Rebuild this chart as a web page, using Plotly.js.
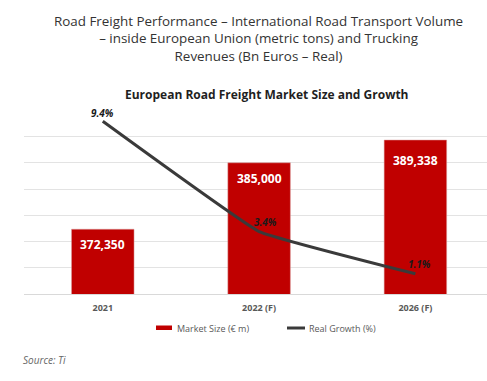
<!DOCTYPE html>
<html>
<head>
<meta charset="utf-8">
<script src="https://cdn.plot.ly/plotly-3.0.1.min.js"></script>
<style>html,body{margin:0;padding:0;background:#fff;}#chart{width:487px;height:381px;}</style>
</head>
<body>
<div id="chart"></div>
<script>
const categories = ['2021', '2022 (F)', '2026 (F)'];
const marketSize = [372350, 385000, 389338];
const realGrowth = [9.4, 3.4, 1.1];
const growthLabels = ['9.4%', '3.4%', '1.1%'];
const seriesNames = ['Market Size (€ m)', 'Real Growth (%)'];

const F = '"Open Sans", sans-serif';

const bars = {
  type: 'bar', x: categories, y: marketSize, name: seriesNames[0],
  marker: {color: '#C00000', line: {color: '#d9a0a0', width: 0.5}},
  width: 0.4, hoverinfo: 'none', showlegend: false
};
const line = {
  type: 'scatter', mode: 'lines', x: categories, y: realGrowth, yaxis: 'y2',
  name: seriesNames[1],
  line: {color: '#3a3a3a', width: 3, shape: 'spline', smoothing: 0.25},
  hoverinfo: 'none', showlegend: false
};

const annotations = [];
// bar value labels
const barShift = [-15, -16, -20];
marketSize.forEach((v, i) => annotations.push({
  x: i, y: v, xref: 'x', yref: 'y', text: '<b>' + v.toLocaleString('en-US') + '</b>',
  showarrow: false, yanchor: 'middle', yshift: barShift[i],
  font: {family: F, size: 12, color: '#ffffff'}
}));
// growth labels
const shifts = [[0, 8], [6, 9.5], [4, 9.5]];
realGrowth.forEach((v, i) => annotations.push({
  x: i, y: v, xref: 'x', yref: 'y2', text: '<b><i>' + growthLabels[i] + '</i></b>',
  showarrow: false, yanchor: 'middle', xshift: shifts[i][0], yshift: shifts[i][1],
  font: {family: F, size: 10, color: '#1a1a1a'}
}));
// main title
annotations.push({
  xref: 'paper', yref: 'paper', x: (258 - 24) / 463, y: (294 - 10) / 184, xanchor: 'center', yanchor: 'top',
  text: 'Road Freight Performance – International Road Transport Volume<br>– inside European Union (metric tons) and Trucking<br>Revenues (Bn Euros – Real)',
  showarrow: false, align: 'center', font: {family: F, size: 13.4, color: '#333'}
});
// subtitle
annotations.push({
  xref: 'paper', yref: 'paper', x: (267 - 24) / 463, y: (294 - 94.5) / 184, xanchor: 'center', yanchor: 'middle',
  text: '<b>European Road Freight Market Size and Growth</b>', showarrow: false,
  font: {family: F, size: 12, color: '#1f1f1f'}
});
// legend texts
annotations.push({
  xref: 'paper', yref: 'paper', x: (175 - 24) / 463, y: (294 - 328) / 184, xanchor: 'left', yanchor: 'middle',
  text: seriesNames[0], showarrow: false, font: {family: F, size: 9, color: '#595959'}
});
annotations.push({
  xref: 'paper', yref: 'paper', x: (307 - 24) / 463, y: (294 - 328) / 184, xanchor: 'left', yanchor: 'middle',
  text: seriesNames[1], showarrow: false, font: {family: F, size: 9, color: '#595959'}
});
// source
annotations.push({
  xref: 'paper', yref: 'paper', x: (21 - 24) / 463, y: (294 - 360) / 184, xanchor: 'left', yanchor: 'middle',
  text: '<i>Source: Ti</i>', showarrow: false, font: {family: F, size: 10, color: '#666'}
});

const shapes = [
  {type: 'rect', xref: 'paper', yref: 'paper', x0: (156 - 24) / 463, x1: (172 - 24) / 463,
   y0: (294 - 330) / 184, y1: (294 - 325.5) / 184, fillcolor: '#C00000', line: {width: 0}},
  {type: 'line', xref: 'paper', yref: 'paper', x0: (287 - 24) / 463, x1: (305 - 24) / 463,
   y0: (294 - 328) / 184, y1: (294 - 328) / 184, line: {color: '#3a3a3a', width: 3}}
];

const layout = {
  width: 487, height: 381,
  margin: {l: 24, r: 0, t: 110, b: 87},
  paper_bgcolor: '#fff', plot_bgcolor: '#fff',
  showlegend: false,
  xaxis: {
    type: 'category', range: [-0.504, 2.458], showgrid: false, zeroline: false,
    showline: true, linecolor: '#d9d9d9', linewidth: 1, ticks: '', ticklabelstandoff: 5,
    tickfont: {family: F, size: 9, color: '#595959', weight: 'bold'}
  },
  yaxis: {
    range: [360000, 395060], tick0: 360000, dtick: 5000, showgrid: true, gridcolor: '#e3e3e3', gridwidth: 1,
    showticklabels: false, zeroline: false, ticks: ''
  },
  yaxis2: {
    range: [0, 10.017], overlaying: 'y', side: 'right', showgrid: false,
    showticklabels: false, zeroline: false, ticks: ''
  },
  annotations: annotations,
  shapes: shapes,
  bargap: 0.6
};

Plotly.newPlot('chart', [bars, line], layout, {displayModeBar: false, staticPlot: true});
</script>
</body>
</html>
